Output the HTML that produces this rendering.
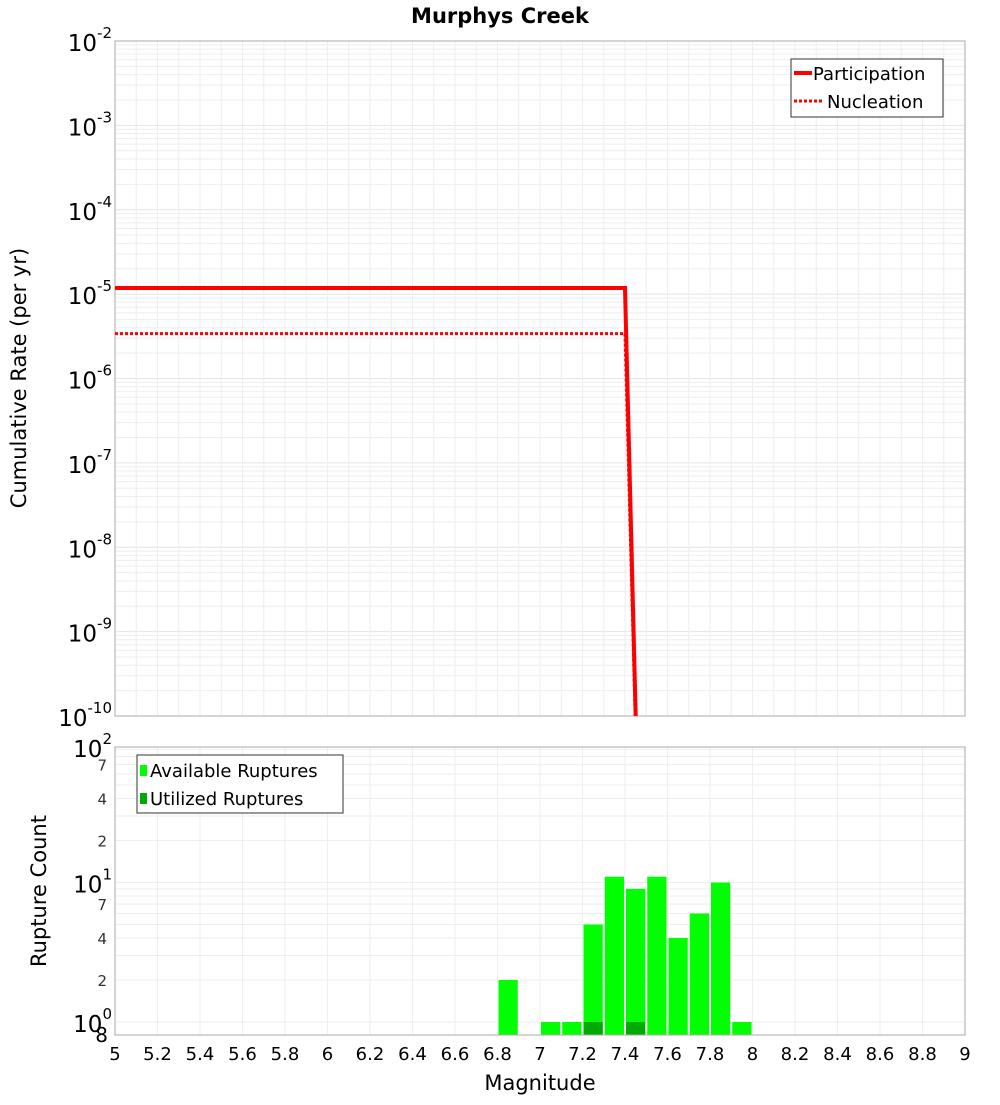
<!DOCTYPE html>
<html><head><meta charset="utf-8"><style>
body{margin:0;background:#fff;}
svg text{font-family:"DejaVu Sans","Liberation Sans",sans-serif;}
</style></head><body>
<svg id="c" width="1000" height="1100" xmlns="http://www.w3.org/2000/svg">
<text x="500" y="23" text-anchor="middle" font-size="21" font-weight="bold">Murphys Creek</text>
<g id="gtop"></g>
<g id="gbot"></g>
<text transform="translate(26,378) rotate(-90)" text-anchor="middle" font-size="21">Cumulative Rate (per yr)</text>
<text transform="translate(46,891) rotate(-90)" text-anchor="middle" font-size="21">Rupture Count</text>
<text x="540" y="1090" text-anchor="middle" font-size="21">Magnitude</text>
<g>
<rect x="791" y="59" width="152" height="58" fill="#fff" stroke="#333"/>
<line x1="794" y1="73" x2="812" y2="73" stroke="#f00" stroke-width="4"/>
<text x="813" y="80" font-size="18">Participation</text>
<line x1="794" y1="101" x2="822" y2="101" stroke="#f00" stroke-width="3" stroke-dasharray="3,2"/>
<text x="827" y="108" font-size="18">Nucleation</text>
</g>
<g>
<rect x="137" y="755" width="206" height="58" fill="#fff" stroke="#333"/>
<rect x="140" y="765" width="7" height="11" fill="#00ff00"/>
<text x="150" y="777" font-size="18">Available Ruptures</text>
<rect x="140" y="793" width="7" height="11" fill="#00aa00"/>
<text x="150" y="805" font-size="18">Utilized Ruptures</text>
</g>
</svg>
<script>
const xTicks=[5,5.2,5.4,5.6,5.8,6,6.2,6.4,6.6,6.8,7,7.2,7.4,7.6,7.8,8,8.2,8.4,8.6,8.8,9];
const rateExps=[-2,-3,-4,-5,-6,-7,-8,-9,-10];
const partMag=[5,7.4,7.5];
const partRate=[1.18e-5,1.18e-5,1e-15];
const nuclMag=[5,7.4,7.5];
const nuclRate=[3.4e-6,3.4e-6,1e-15];
const binCenters=[6.85,7.05,7.15,7.25,7.35,7.45,7.55,7.65,7.75,7.85,7.95];
const available=[2,1,1,5,11,9,11,4,6,10,1];
const utilized=[0,0,0,1,0,1,0,0,0,0,0];
const countTicks=[2,4,7,20,40,70];

const NS="http://www.w3.org/2000/svg";
function mk(p,t,a){const e=document.createElementNS(NS,t);for(const k in a)e.setAttribute(k,a[k]);p.appendChild(e);return e;}
const X0=115,X1=965;
const xs=m=>X0+(m-5)/4*(X1-X0);
const T0=41,T1=716;
const yR=v=>T0+(-2-Math.log10(v))/8*(T1-T0);
const B0=747,B1=1035;
const yC=v=>1022-139.5*Math.log10(v);
const gTop=document.getElementById('gtop'),gBot=document.getElementById('gbot');

for(let e=-10;e<-2;e++)for(let k=1;k<10;k++){const y=yR(k*Math.pow(10,e));
const l=mk(gTop,'line',{x1:X0,x2:X1,y1:y,y2:y,stroke:k==1?'#e4e4e4':'#eeeeee','stroke-width':1});

}
for(let i=0;i<=40;i++){const m=5+i*0.1;const l=mk(gTop,'line',{x1:xs(m),x2:xs(m),y1:T0,y2:T1,stroke:'#eeeeee'});

}
const tf=mk(gTop,'rect',{x:X0,y:T0,width:X1-X0,height:T1-T0,fill:'none',stroke:'#aaa'});


rateExps.forEach(e=>{const y=yR(Math.pow(10,e));
const t=mk(gTop,'text',{x:112,y:y+10,'text-anchor':'end','font-size':23});


t.innerHTML='10<tspan dy="-13" font-size="15">'+e+'</tspan>';});
const cp=mk(gTop,'clipPath',{id:'cl'});mk(cp,'rect',{x:X0,y:T0,width:X1-X0,height:T1-T0});
const pp=mk(gTop,'polyline',{points:partMag.map((m,i)=>xs(m)+','+yR(partRate[i])).join(' '),fill:'none',stroke:'#f00','stroke-width':4,'clip-path':'url(#cl)'});


const np=mk(gTop,'polyline',{points:nuclMag.map((m,i)=>xs(m)+','+yR(nuclRate[i])).join(' '),fill:'none',stroke:'#f00','stroke-width':3,'stroke-dasharray':'3,2','clip-path':'url(#cl)'});



[1,2,3,4,5,6,7,8,9,10,20,30,40,50,60,70,80,90].forEach(v=>{const y=yC(v);
const l=mk(gBot,'line',{x1:X0,x2:X1,y1:y,y2:y,stroke:'#eeeeee'});

});
for(let i=0;i<=20;i++){const m=5+i*0.2;const l=mk(gBot,'line',{x1:xs(m),x2:xs(m),y1:B0,y2:B1,stroke:'#eeeeee'});

}
binCenters.forEach((c,i)=>{const a=mk(gBot,'rect',{x:xs(c-0.05)+1,y:yC(available[i]),width:xs(c+0.05)-xs(c-0.05)-2,height:B1-yC(available[i]),fill:'#00ff00'});


if(utilized[i]>0){const u=mk(gBot,'rect',{x:xs(c-0.05)+1,y:yC(utilized[i]),width:xs(c+0.05)-xs(c-0.05)-2,height:B1-yC(utilized[i]),fill:'#00aa00'});

}});
const bf=mk(gBot,'rect',{x:X0,y:B0,width:X1-X0,height:B1-B0,fill:'none',stroke:'#aaa'});


[[1,'0'],[10,'1'],[100,'2']].forEach(([v,e])=>{const y=Math.max(yC(v),B0);
const t=mk(gBot,'text',{x:112,y:y+10,'text-anchor':'end','font-size':23});


t.innerHTML='10<tspan dy="-13" font-size="15">'+e+'</tspan>';});
countTicks.forEach(v=>{const t=mk(gBot,'text',{x:107,y:yC(v)+6,'text-anchor':'end','font-size':15,fill:'#333'});


t.textContent=String(v).charAt(0);});
const t8=mk(gBot,'text',{x:108,y:1042,'text-anchor':'end','font-size':20});


t8.textContent='8';
xTicks.forEach(m=>{const t=mk(gBot,'text',{x:xs(m),y:1060,'text-anchor':'middle','font-size':18});


t.textContent=String(m);});
</script>
</body></html>
